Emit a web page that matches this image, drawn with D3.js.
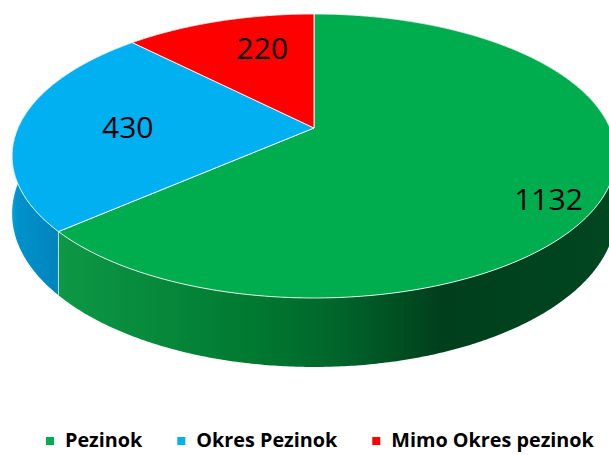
<!DOCTYPE html>
<html>
<head>
<meta charset="utf-8">
<script src="https://cdn.jsdelivr.net/npm/d3@7"></script>
<style>
  body { margin: 0; background: #fff; }
  svg { display: block; }
</style>
</head>
<body>
<svg id="chart" width="609" height="455"></svg>
<script>
// Data
const categories = ["Pezinok", "Okres Pezinok", "Mimo Okres pezinok"];
const values = [1132, 430, 220];

// Color combination
const topColors = ["#00AD4E", "#00B0F0", "#FF0000"];
const sideStops = [
  [["0%", "#10a048"], ["10%", "#0c9644"], ["40%", "#007a31"], ["55%", "#00642a"], ["72%", "#003f1c"], ["100%", "#00461f"]],
  [["0%", "#0aa2dc"], ["10%", "#0092cc"], ["100%", "#0082bb"]],
  [["0%", "#d00000"], ["100%", "#900000"]]
];

// 3D perspective settings
const cx = 314, cy = 128;   // pie centre on screen
const A = 296, B = 136.5;   // horizontal / vertical radius
const k = 0.197;            // perspective strength
const D = 55.4;             // thickness
const labelLayout = [
  { r: 0.86, shift: 9 },
  { r: 0.63, shift: -1.5 },
  { r: 0.69, shift: 5.6 }
];

// Project a point of the disk (angle from 12 o'clock, clockwise) to the screen
function project(theta, r, depth) {
  const X = r * Math.sin(theta);
  const Z = r * Math.cos(theta);
  const w = 1 + k * Z;
  return [cx + A * X / w, cy + (-B * Z + D * depth) / w];
}

function arcPoints(a0, a1, depth) {
  const n = Math.max(2, Math.ceil((a1 - a0) / (Math.PI / 360)));
  return d3.range(n + 1).map(i => project(a0 + (a1 - a0) * i / n, 1, depth));
}

function main() {
  const svg = d3.select("#chart");
  const line = d3.line();
  const color = d3.scaleOrdinal().domain(categories).range(topColors);

  const arcs = d3.pie().sort(null).value(d => d)(values);
  arcs.forEach((a, i) => a.name = categories[i]);

  // side gradients
  const defs = svg.append("defs");
  sideStops.forEach((stops, i) => {
    const g = defs.append("linearGradient")
      .attr("id", "side" + i)
      .attr("gradientUnits", "userSpaceOnUse")
      .attr("x1", 12).attr("x2", i === 1 ? 62 : 609)
      .attr("y1", 0).attr("y2", 0);
    stops.forEach(s => g.append("stop").attr("offset", s[0]).attr("stop-color", s[1]));
  });

  // walls, back ones first
  const order = arcs.slice().sort((a, b) =>
    Math.cos((a.startAngle + a.endAngle) / 2) < Math.cos((b.startAngle + b.endAngle) / 2) ? 1 : -1);

  const walls = svg.append("g");
  order.forEach(a => {
    const topEdge = arcPoints(a.startAngle, a.endAngle, 0);
    const bottomEdge = arcPoints(a.startAngle, a.endAngle, 1).reverse();
    walls.append("path")
      .attr("d", line(topEdge.concat(bottomEdge)) + "Z")
      .attr("fill", `url(#side${a.index})`);
  });

  // thin light edges where slices meet on the wall
  arcs.forEach(a => {
    walls.append("path")
      .attr("d", line([project(a.startAngle, 1, 0), project(a.startAngle, 1, 1)]))
      .attr("stroke", "#d8e8e0")
      .attr("stroke-opacity", 0.8)
      .attr("stroke-width", 1);
  });

  // top faces
  svg.append("g").selectAll("path")
    .data(arcs)
    .enter().append("path")
    .attr("d", a => line([project(0, 0, 0)].concat(arcPoints(a.startAngle, a.endAngle, 0))) + "Z")
    .attr("fill", a => color(a.name))
    .attr("stroke", "#ffffff")
    .attr("stroke-opacity", 0.85)
    .attr("stroke-width", 1)
    .attr("stroke-linejoin", "round");

  // value labels
  svg.append("g").selectAll("text")
    .data(arcs)
    .enter().append("text")
    .attr("transform", a => {
      const l = labelLayout[a.index];
      const mid = (a.startAngle + a.endAngle) / 2 + l.shift * Math.PI / 180;
      const p = project(mid, l.r, 0);
      return `translate(${p[0]},${p[1]})`;
    })
    .attr("text-anchor", "middle")
    .attr("dy", "0.36em")
    .style("font-family", "'Open Sans', sans-serif")
    .style("font-size", "30px")
    .style("fill", "#000")
    .text(a => a.value);

  // legend
  const legend = svg.append("g").attr("transform", "translate(46,447)");
  let x = 0;
  categories.forEach((c, i) => {
    const item = legend.append("g").attr("transform", `translate(${x},0)`);
    item.append("rect")
      .attr("x", 0).attr("y", -10)
      .attr("width", 8).attr("height", 8)
      .attr("fill", color(c));
    const t = item.append("text")
      .attr("x", 19)
      .style("font-family", "'Open Sans', sans-serif")
      .style("font-weight", "bold")
      .style("font-size", "19.8px")
      .style("fill", "#000")
      .text(c);
    x += 19 + t.node().getComputedTextLength() + 35;
  });
}

main();
</script>
</body>
</html>
